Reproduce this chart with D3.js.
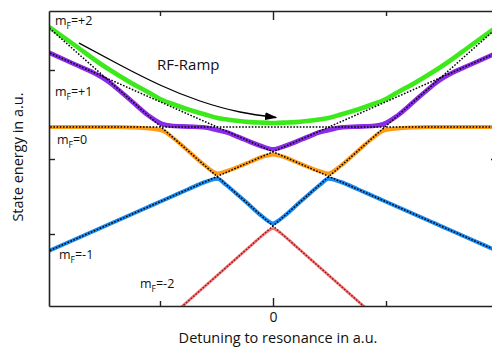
<!DOCTYPE html>
<html>
<head>
<meta charset="utf-8">
<script src="https://cdn.jsdelivr.net/npm/d3@7"></script>
<style>
  body { margin: 0; background: #fff; }
  svg { display: block; font-family: "Open Sans", sans-serif; }
</style>
</head>
<body>
<div id="chart"></div>
<script>
'use strict';

// detuning grid (a.u.), shared by all dressed states
var detuning = [-1.98, -1.75, -1.55, -1.47, -1.40, -1.25, -1.10, -0.98, -0.90, -0.75, -0.60, -0.49, -0.42, -0.30, -0.20, -0.10, -0.04, 0,
    0.04, 0.10, 0.20, 0.30, 0.42, 0.49, 0.60, 0.75, 0.90, 0.98, 1.10, 1.25, 1.40, 1.47, 1.55, 1.75, 1.98];

// dressed state energies (a.u.)
var stateP2 = [2.00, 1.63, 1.30, 1.18, 1.08, 0.875, 0.69, 0.54, 0.47, 0.35, 0.25, 0.18, 0.155, 0.12, 0.098, 0.087, 0.082, 0.08,
    0.082, 0.087, 0.098, 0.12, 0.155, 0.18, 0.25, 0.35, 0.47, 0.54, 0.69, 0.875, 1.08, 1.18, 1.30, 1.63, 2.00];
var stateP1 = [1.485, 1.25, 1.04, 0.93, 0.805, 0.515, 0.225, 0.06, 0.025, 0.008, -0.01, -0.065, -0.10, -0.205, -0.30, -0.385, -0.43, -0.445,
    -0.43, -0.385, -0.30, -0.205, -0.10, -0.065, -0.01, 0.008, 0.025, 0.06, 0.225, 0.515, 0.805, 0.93, 1.04, 1.25, 1.485];
var state0 = [0, 0, 0, 0, -0.002, -0.01, -0.03, -0.07, -0.19, -0.48, -0.775, -0.93, -0.89, -0.79, -0.695, -0.60, -0.565, -0.55,
    -0.565, -0.60, -0.695, -0.79, -0.89, -0.93, -0.775, -0.48, -0.19, -0.07, -0.03, -0.01, -0.002, 0, 0, 0, 0];
var stateM1 = [-2.475, -2.245, -2.045, -1.965, -1.895, -1.745, -1.595, -1.475, -1.395, -1.245, -1.10, -1.035, -1.15, -1.38, -1.58, -1.78, -1.885, -1.93,
    -1.885, -1.78, -1.58, -1.38, -1.15, -1.035, -1.10, -1.245, -1.395, -1.475, -1.595, -1.745, -1.895, -1.965, -2.045, -2.245, -2.475];
var stateM2 = [-5.94, -5.48, -5.08, -4.92, -4.78, -4.48, -4.18, -3.94, -3.78, -3.48, -3.18, -2.96, -2.82, -2.58, -2.38, -2.18, -2.075, -2.03,
    -2.075, -2.18, -2.38, -2.58, -2.82, -2.96, -3.18, -3.48, -3.78, -3.94, -4.18, -4.48, -4.78, -4.92, -5.08, -5.48, -5.94];

// bare (uncoupled) states, straight lines: energy at both ends
var bareEnds = [-2, 2];
var bareP2 = [-5.98, 2.02];
var bareP1 = [-2.495, 1.505];
var bare0 = [0, 0];
var bareM1 = [1.505, -2.495];
var bareM2 = [2.02, -5.98];

// RF ramp arrow path
var rampX = [-1.717, -1.354, -1.0, -0.646, -0.292, 0.027];
var rampY = [1.68, 1.24, 0.84, 0.52, 0.30, 0.19];

var xTicks = [-1, 0, 1];
var yTicks = [1.14, -0.64, -2.14];
var yTicksRight = [-0.64];

var width = 492, height = 347;
var padLeft = 49, padRight = 497, padTop = 11, padBottom = 306;

var x = d3.scaleLinear().domain([-1.982, 1.982]).range([padLeft, padRight]);
var y = d3.scaleLinear().domain([-3.58, 2.32]).range([padBottom, padTop]);

var svg = d3.select("#chart").append("svg")
    .attr("width", width)
    .attr("height", height);

var defs = svg.append("defs");
defs.append("clipPath").attr("id", "plotclip")
    .append("rect")
    .attr("x", padLeft).attr("y", padTop)
    .attr("width", padRight - padLeft).attr("height", padBottom - padTop);
defs.append("marker")
    .attr("id", "arrowhead")
    .attr("markerUnits", "userSpaceOnUse")
    .attr("viewBox", "0 0 12 8")
    .attr("refX", 11).attr("refY", 4)
    .attr("markerWidth", 12).attr("markerHeight", 8)
    .attr("orient", "auto")
    .append("path")
    .attr("d", "M0,0L12,4L0,8Z")
    .attr("fill", "#000");

var line = d3.line()
    .x(function (d) { return x(d[0]); })
    .y(function (d) { return y(d[1]); })
    .curve(d3.curveMonotoneX);

function zipped(xs, ys) {
    return xs.map(function (v, i) { return [v, ys[i]]; });
}

var plot = svg.append("g").attr("clip-path", "url(#plotclip)");

var states = [
    {values: stateM1, color: "#1a8cf2", w: 4},
    {values: state0, color: "#ff9a14", w: 4},
    {values: stateP1, color: "#8a2be8", w: 4.6},
    {values: stateP2, color: "#3cea1c", w: 4.6}
];

states.forEach(function (s) {
    plot.append("path")
        .attr("d", line(zipped(detuning, s.values)))
        .attr("fill", "none")
        .attr("stroke", s.color)
        .attr("stroke-width", s.w)
        .attr("stroke-linejoin", "round");
});

var straight = d3.line()
    .x(function (d) { return x(d[0]); })
    .y(function (d) { return y(d[1]); });

[bareP2, bareP1, bare0, bareM1, bareM2].forEach(function (b) {
    plot.append("path")
        .attr("d", straight(zipped(bareEnds, b)))
        .attr("fill", "none")
        .attr("stroke", "#000")
        .attr("stroke-width", 1.5)
        .attr("stroke-dasharray", "1.6,1.6");
});

// lowest state drawn over its bare lines, so the dots show through dark red
plot.append("path")
    .attr("d", line(zipped(detuning, stateM2)))
    .attr("fill", "none")
    .attr("stroke", "#f02828")
    .attr("stroke-opacity", 0.65)
    .attr("stroke-width", 2.8);

// RF ramp arrow
svg.append("path")
    .attr("d", d3.line()
        .x(function (d) { return x(d[0]); })
        .y(function (d) { return y(d[1]); })
        .curve(d3.curveNatural)(zipped(rampX, rampY)))
    .attr("fill", "none")
    .attr("stroke", "#000")
    .attr("stroke-width", 1.3)
    .attr("marker-end", "url(#arrowhead)");

svg.append("text")
    .attr("x", 157).attr("y", 70)
    .attr("font-size", 15)
    .attr("fill", "#111")
    .text("RF-Ramp");

// axes
var axisColor = "#222";
function styleAxis(g) {
    g.select(".domain").attr("stroke", axisColor).attr("stroke-width", 1.6);
    g.selectAll(".tick line").attr("stroke", axisColor).attr("stroke-width", 1.4);
}

var xb = svg.append("g")
    .attr("transform", "translate(0," + padBottom + ")")
    .call(d3.axisBottom(x).tickValues(xTicks).tickSizeInner(-5).tickSizeOuter(0)
        .tickFormat(function (d) { return d === 0 ? "0" : ""; }));
xb.call(styleAxis);
xb.selectAll(".tick line").filter(function (d) { return d === 0; }).attr("y2", -8);
xb.selectAll(".tick text").attr("font-family", "Open Sans, sans-serif")
    .attr("font-size", 14).attr("fill", "#111").attr("dy", 0).attr("y", 15.5);

var xt = svg.append("g")
    .attr("transform", "translate(0," + padTop + ")")
    .call(d3.axisTop(x).tickValues(xTicks).tickSizeInner(-5).tickSizeOuter(0).tickFormat(""));
xt.call(styleAxis);
xt.selectAll(".tick line").filter(function (d) { return d === 0; }).attr("y2", 9);

var yl = svg.append("g")
    .attr("transform", "translate(" + padLeft + ",0)")
    .call(d3.axisLeft(y).tickValues(yTicks).tickSizeInner(-6).tickSizeOuter(0).tickFormat(""));
yl.call(styleAxis);

var yr = svg.append("g")
    .attr("transform", "translate(" + padRight + ",0)")
    .call(d3.axisRight(y).tickValues(yTicksRight).tickSizeInner(-6).tickSizeOuter(0).tickFormat(""));
yr.call(styleAxis);

// axis titles
svg.append("text")
    .attr("x", 278).attr("y", 343)
    .attr("text-anchor", "middle")
    .attr("font-size", 14.5)
    .attr("fill", "#111")
    .text("Detuning to resonance in a.u.");

svg.append("text")
    .attr("transform", "translate(23,157) rotate(-90)")
    .attr("text-anchor", "middle")
    .attr("font-size", 14.5)
    .attr("fill", "#111")
    .text("State energy in a.u.");

// state labels
var labels = [
    {tail: "=+2", px: 55, py: 25},
    {tail: "=+1", px: 55, py: 96},
    {tail: "=0", px: 57, py: 144},
    {tail: "=-1", px: 59, py: 259},
    {tail: "=-2", px: 140, py: 288}
];
labels.forEach(function (l) {
    var t = svg.append("text")
        .attr("x", l.px).attr("y", l.py)
        .attr("font-size", 12.5)
        .attr("fill", "#111");
    t.append("tspan").text("m");
    t.append("tspan").attr("font-size", 8.5).attr("dy", 3.5).text("F");
    t.append("tspan").attr("dy", -3.5).text(l.tail);
});
</script>
</body>
</html>
